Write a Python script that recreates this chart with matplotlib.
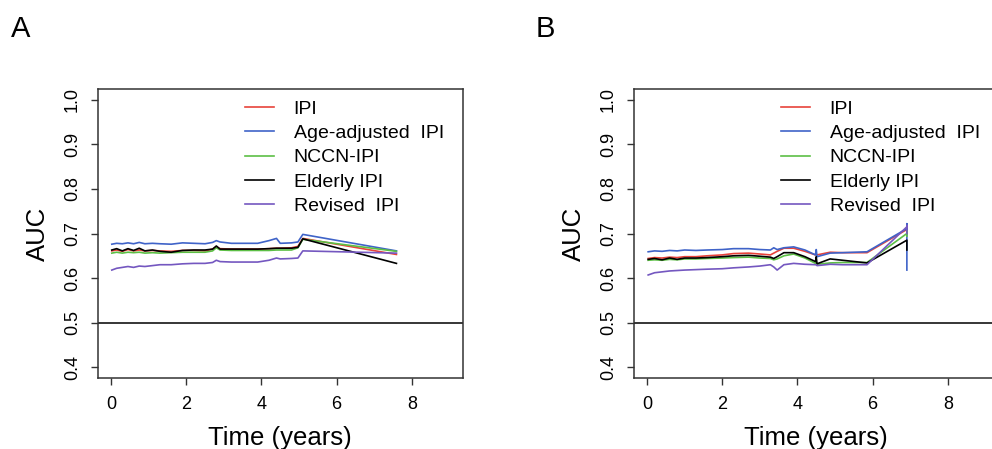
import matplotlib
matplotlib.use("Agg")
import matplotlib.pyplot as plt

plt.rcParams["font.family"] = ["Liberation Sans", "DejaVu Sans"]

series_names = ["IPI", "Age-adjusted  IPI", "NCCN-IPI", "Elderly IPI", "Revised  IPI"]
series_colors = ["#E8433B", "#3F63C8", "#5CBF45", "#000000", "#7457C0"]

# --- panel A ---
time_a = [0.02, 0.15, 0.3, 0.45, 0.6, 0.75, 0.9, 1.1, 1.3, 1.6, 1.9, 2.2, 2.5,
          2.7, 2.8, 2.9, 3.2, 3.6, 3.9, 4.2, 4.4, 4.5, 4.8, 4.97, 5.1, 7.59]
ipi_a = [0.661, 0.663, 0.660, 0.664, 0.661, 0.663, 0.661, 0.662, 0.661, 0.660, 0.662, 0.662, 0.661,
         0.665, 0.670, 0.666, 0.665, 0.665, 0.665, 0.666, 0.667, 0.667, 0.668, 0.671, 0.689, 0.653]
aaipi_a = [0.676, 0.678, 0.677, 0.679, 0.677, 0.680, 0.677, 0.678, 0.677, 0.676, 0.679, 0.678, 0.677,
           0.680, 0.684, 0.681, 0.678, 0.678, 0.678, 0.684, 0.689, 0.678, 0.679, 0.681, 0.698, 0.661]
nccn_a = [0.656, 0.658, 0.656, 0.658, 0.657, 0.658, 0.656, 0.657, 0.656, 0.657, 0.658, 0.658, 0.658,
          0.661, 0.668, 0.663, 0.662, 0.662, 0.662, 0.662, 0.663, 0.663, 0.663, 0.668, 0.687, 0.660]
elderly_a = [0.663, 0.666, 0.661, 0.666, 0.662, 0.667, 0.661, 0.663, 0.660, 0.658, 0.662, 0.663, 0.663,
             0.665, 0.672, 0.665, 0.665, 0.665, 0.665, 0.666, 0.667, 0.667, 0.667, 0.669, 0.688, 0.633]
revised_a = [0.618, 0.622, 0.624, 0.626, 0.624, 0.627, 0.626, 0.628, 0.630, 0.630, 0.632, 0.633, 0.633,
             0.635, 0.640, 0.637, 0.636, 0.636, 0.636, 0.640, 0.645, 0.643, 0.644, 0.645, 0.661, 0.656]

# --- panel B ---
time_b = [0.03, 0.2, 0.4, 0.6, 0.8, 1.0, 1.3, 1.6, 2.0, 2.3, 2.7, 3.0, 3.28, 3.37,
          3.46, 3.64, 3.9, 4.2, 4.48, 4.50, 4.52, 4.87, 5.2, 5.85, 6.91, 6.91, 6.91]
ipi_b = [0.644, 0.646, 0.645, 0.647, 0.646, 0.648, 0.648, 0.650, 0.652, 0.655, 0.656, 0.654, 0.652, 0.656,
         0.660, 0.667, 0.667, 0.660, 0.652, 0.654, 0.652, 0.658, 0.657, 0.657, 0.709, 0.709, 0.709]
aaipi_b = [0.659, 0.661, 0.660, 0.662, 0.661, 0.663, 0.662, 0.663, 0.664, 0.666, 0.666, 0.664, 0.663, 0.668,
           0.664, 0.668, 0.670, 0.663, 0.652, 0.664, 0.648, 0.656, 0.657, 0.659, 0.711, 0.722, 0.618]
nccn_b = [0.640, 0.641, 0.640, 0.642, 0.641, 0.643, 0.643, 0.644, 0.645, 0.646, 0.647, 0.645, 0.644, 0.641,
          0.643, 0.650, 0.654, 0.645, 0.633, 0.636, 0.631, 0.634, 0.635, 0.635, 0.700, 0.706, 0.694]
elderly_b = [0.642, 0.644, 0.641, 0.645, 0.642, 0.645, 0.645, 0.646, 0.648, 0.650, 0.651, 0.649, 0.647, 0.644,
             0.648, 0.657, 0.657, 0.648, 0.637, 0.648, 0.632, 0.643, 0.640, 0.634, 0.685, 0.685, 0.663]
revised_b = [0.607, 0.612, 0.614, 0.616, 0.617, 0.618, 0.619, 0.620, 0.621, 0.623, 0.625, 0.627, 0.630, 0.625,
             0.618, 0.630, 0.633, 0.631, 0.630, 0.630, 0.628, 0.631, 0.630, 0.630, 0.715, 0.718, 0.700]

y_ticks = [0.4, 0.5, 0.6, 0.7, 0.8, 0.9, 1.0]
x_ticks = [0, 2, 4, 6, 8]

W, H = 992, 449
fig = plt.figure(figsize=(W / 100, H / 100), dpi=100)


def px_axes(left, top, right, bottom):
    return fig.add_axes([left / W, 1 - bottom / H, (right - left) / W, (bottom - top) / H])


def draw_panel(ax, t, curves):
    for vals, name, col in zip(curves, series_names, series_colors):
        ax.plot(t, vals, color=col, lw=1.2, label=name)
    ax.axhline(0.5, color="black", lw=1.1)
    # R style: 4% padding around the data range
    ax.set_xlim(0 - 0.36, 9 + 0.36)
    ax.set_ylim(0.4 - 0.024, 1.0 + 0.024)
    ax.set_xticks(x_ticks)
    ax.set_yticks(y_ticks)
    ax.set_yticklabels([f"{v:.1f}" for v in y_ticks])
    ax.tick_params(direction="out", length=5, width=1, labelsize=13, color="#333333")
    ax.tick_params(axis="x", pad=8)
    ax.tick_params(axis="y", pad=7, labelrotation=90)
    for lab in ax.get_yticklabels():
        lab.set_verticalalignment("center")
    for s in ax.spines.values():
        s.set_linewidth(1.1)
        s.set_color("#333333")
    ax.set_xlabel("Time (years)", fontsize=18.5)
    ax.set_ylabel("AUC", fontsize=18.5)
    ax.xaxis.set_label_coords(0.5, -60 / 289)
    ax.xaxis.label.set_verticalalignment("center")
    ax.yaxis.set_label_coords(-60 / 365.5, 0.5)
    ax.yaxis.label.set_verticalalignment("center")
    ax.legend(loc="upper left", bbox_to_anchor=(0.4036, 0.962), frameon=False,
              fontsize=14, handlelength=1.5, handletextpad=1.0,
              borderpad=0, borderaxespad=0, labelspacing=0.35)


ax_a = px_axes(97.5, 89, 463, 378)
draw_panel(ax_a, time_a, [ipi_a, aaipi_a, nccn_a, elderly_a, revised_a])

ax_b = px_axes(633.5, 89, 999, 378)
draw_panel(ax_b, time_b, [ipi_b, aaipi_b, nccn_b, elderly_b, revised_b])

fig.text(10.7 / W, 1 - 36.7 / H, "A", fontsize=21, va="baseline", ha="left")
fig.text(536 / W, 1 - 36.7 / H, "B", fontsize=21, va="baseline", ha="left")

fig.savefig("out.png", dpi=100)
plt.close(fig)
